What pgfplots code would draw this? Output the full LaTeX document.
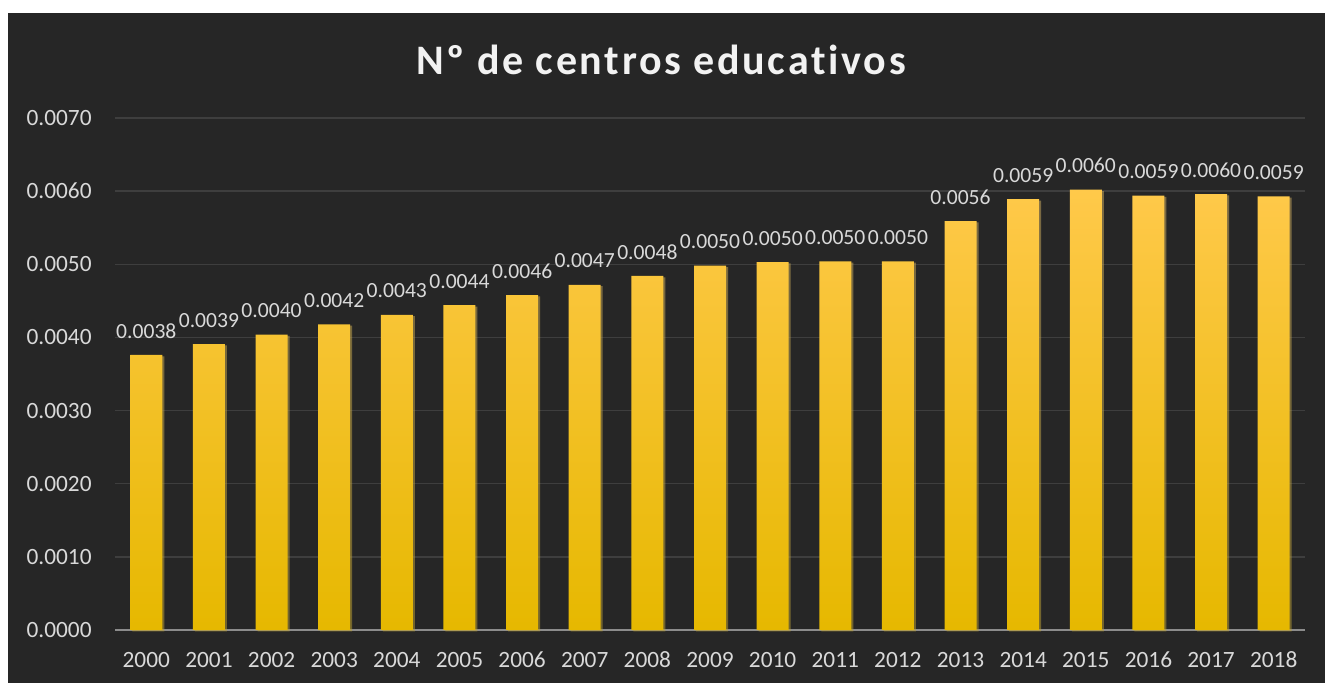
\documentclass[border=0pt]{standalone}
\usepackage{pgfplots}
\pgfplotsset{compat=1.18}
\usepackage{fontspec}
\setmainfont{Carlito}
\newfontfamily\titlefont[LetterSpace=6.5, Ligatures={NoCommon,NoContextual}]{Carlito}
\usetikzlibrary{shadows}
\definecolor{bg}{HTML}{262626}
\definecolor{gridc}{HTML}{3E3E3E}
\definecolor{basec}{HTML}{8C8C8C}
\definecolor{tickc}{HTML}{D9D9D9}
\definecolor{titlec}{HTML}{F2F2F2}
\definecolor{bartop}{HTML}{FFC94A}
\definecolor{barmid}{HTML}{FFC800}
\definecolor{barbot}{HTML}{E6B800}
\begin{document}
\begin{tikzpicture}
\useasboundingbox (0,0) rectangle (993.75pt,512.25pt);
\fill[white] (0,0) rectangle (993.75pt,512.25pt);
\fill[bg] (6pt,0) rectangle (993.75pt,502.5pt);
\begin{axis}[
  at={(86.25pt,39.75pt)}, anchor=south west,
  scale only axis, width=892.5pt, height=384pt,
  xmin=-0.5, xmax=18.5, ymin=0, ymax=0.007,
  ytick={0,0.001,0.002,0.003,0.004,0.005,0.006,0.007},
  xtick={0,...,18},
  xticklabels={2000,2001,2002,2003,2004,2005,2006,2007,2008,2009,2010,2011,2012,2013,2014,2015,2016,2017,2018},
  scaled y ticks=false,
  /pgf/number format/fixed, /pgf/number format/fixed zerofill,
  /pgf/number format/precision=4, /pgf/number format/assume math mode=true,
  axis line style={draw=none}, major tick length=0pt,
  ymajorgrids, grid style={color=gridc, line width=1.1pt},
  ticklabel style={font=\fontsize{17.5}{20}\selectfont, text=tickc},
  yticklabel style={xshift=-14pt},
  xticklabel style={yshift=-13pt},
  ybar, bar width=24pt,
  nodes near coords,
  every node near coord/.append style={font=\fontsize{16.2}{18}\selectfont, text=tickc, yshift=9pt},
  clip=false,
]
\draw[basec, line width=2.2pt] (axis cs:-0.5,0) -- (axis cs:18.5,0);
\addplot[draw=none, top color=bartop, middle color=barmid, bottom color=barbot,
  drop shadow={shadow xshift=1.5pt, shadow yshift=-1pt, opacity=0.3}]
coordinates {
(0,0.00376) (1,0.00391) (2,0.00404) (3,0.00418) (4,0.00431) (5,0.00444)
(6,0.00458) (7,0.00472) (8,0.00484) (9,0.00498) (10,0.00503) (11,0.00504)
(12,0.00504) (13,0.00559) (14,0.00589) (15,0.00602) (16,0.00594) (17,0.00596) (18,0.00593)
};
\end{axis}
\node[anchor=base, text=titlec, font=\titlefont\bfseries\fontsize{31.5}{36}\selectfont] at (495.75pt,456.4pt) {Nº de centros educativos};
\end{tikzpicture}
\end{document}
